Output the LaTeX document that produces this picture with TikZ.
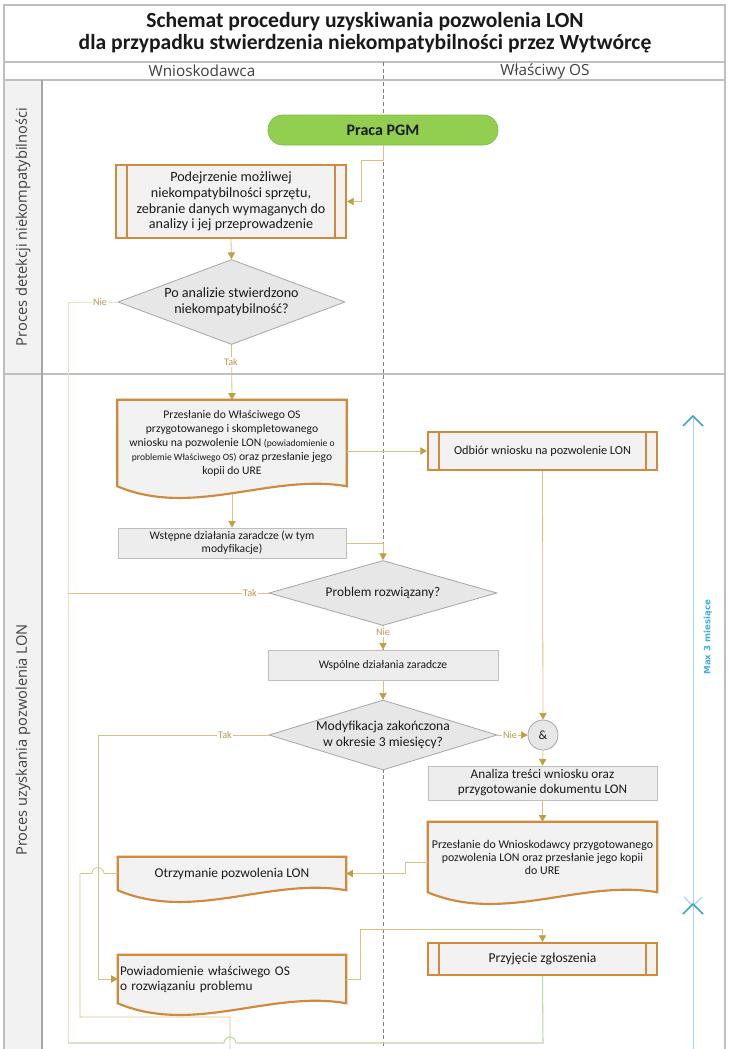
\documentclass[tikz,border=0pt]{standalone}
\usepackage{fontspec}
\setmainfont{Carlito}
\newfontfamily\osans{Open Sans}
\newfontfamily\dvs{DejaVu Sans}
\usetikzlibrary{arrows.meta,shapes.geometric,calc}
\pgfdeclarelayer{lanes}
\pgfdeclarelayer{shapes}
\pgfsetlayers{lanes,shapes,main}
\definecolor{frame}{HTML}{BFBFBF}
\definecolor{frametwo}{HTML}{A6A6A6}
\definecolor{colfill}{HTML}{F2F2F2}
\definecolor{orangeb}{HTML}{D08A3C}
\definecolor{boxfill}{HTML}{F2F2F2}
\definecolor{procfill}{HTML}{EDEDED}
\definecolor{procdraw}{HTML}{BFBFBF}
\definecolor{decfill}{HTML}{E7E7E7}
\definecolor{decdraw}{HTML}{A6A6A6}
\definecolor{conn}{HTML}{D6C383}
\definecolor{connpale}{HTML}{E9E3C3}
\definecolor{arrowc}{HTML}{BFA040}
\definecolor{labc}{HTML}{B39B55}
\definecolor{greenf}{HTML}{92CF50}
\definecolor{greenl}{HTML}{B9DBA0}
\definecolor{bluel}{HTML}{A4D8EE}
\definecolor{bluet}{HTML}{3CA6CC}
\definecolor{bluetext}{HTML}{41AEDD}
\definecolor{txt}{HTML}{1A1A1A}
\definecolor{hdr}{HTML}{404040}
\newcommand\docout[1]{%
  \begin{pgfonlayer}{shapes}
  \filldraw[draw=orangeb, line width=1.6pt, fill=boxfill, line join=miter]
    let \p1=(#1.north west), \p2=(#1.south east), \n1={\x2-\x1} in
    (\p1) -- (\x2,\y1) -- (\p2) .. controls (\x2-0.33*\n1,\y2+10pt) and (\x1+0.33*\n1,\y2-24pt) .. (\x1,\y2) -- cycle;
  \end{pgfonlayer}}
\newcommand\subbars[1]{%
  \draw[orangeb, line width=1.6pt] ($(#1.north west)+(12,0)$) -- ($(#1.south west)+(12,0)$)
    ($(#1.north east)+(-12,0)$) -- ($(#1.south east)+(-12,0)$);}
\begin{document}
\begin{tikzpicture}[x=0.75pt,y=-0.75pt,
  every node/.style={text=txt},
  fA/.style={font=\fontsize{10.6}{11.8}\selectfont},
  subproc/.style={draw=orangeb, line width=1.6pt, fill=boxfill, inner sep=0pt, align=center},
  proc/.style={draw=procdraw, fill=procfill, line width=0.6pt, inner sep=0pt, align=center},
  docnode/.style={inner sep=0pt, align=center},
  dec/.style={diamond, draw=decdraw, fill=decfill, line width=0.6pt, inner sep=0pt, align=center},
  line/.style={draw=conn, line width=0.6pt},
  pale/.style={draw=connpale, line width=0.7pt},
  arr/.style={line, -{Triangle[length=5pt,width=5.5pt,color=arrowc]}},
  lab/.style={fill=white, inner sep=1pt, text=labc, font=\fontsize{7.6}{8.5}\selectfont},
  greenline/.style={draw=greenl, line width=0.8pt}]
\useasboundingbox (0,0) rectangle (730,1049);
\begin{pgfonlayer}{lanes}
\fill[white] (0,0) rectangle (730,1049);
\fill[colfill] (4,80) rectangle (42,1049);
\draw[frame, line width=1.2pt] (4,1049) -- (4,5) -- (725,5) -- (725,1049);
\draw[frame, line width=0.8pt] (4,62) -- (725,62) (4,80) -- (725,80) (4,374) -- (725,374);
\draw[frametwo, line width=1.2pt] (42,80) -- (42,1049);
\draw[gray, line width=0.5pt, dash pattern=on 3pt off 2pt] (383,62) -- (383,1049);
\end{pgfonlayer}

% titles and headers
\node[align=center, font=\bfseries\fontsize{16.2}{16.5}\selectfont] (title) at (365,33)
  {Schemat procedury uzyskiwania pozwolenia LON\\dla przypadku stwierdzenia niekompatybilności przez Wytwórcę};
\node[text=hdr, font=\osans\fontsize{11.5}{12}\selectfont] (h1) at (202,71) {Wnioskodawca};
\node[text=hdr, font=\osans\fontsize{11.5}{12}\selectfont] (h2) at (545,71) {Właściwy OS};
\node[rotate=90, text=hdr, font=\osans\fontsize{11}{13}\selectfont] (p1) at (23,227) {Proces detekcji niekompatybilności};
\node[rotate=90, text=hdr, font=\osans\fontsize{11}{13}\selectfont] (p2) at (23,740) {Proces uzyskania pozwolenia LON};

% nodes
\node[fill=greenf, draw=greenf!90!black, line width=0.5pt, rounded corners=11pt, minimum width=172.5pt, minimum height=22.5pt,
  font=\bfseries\fontsize{12}{13}\selectfont] (pgm) at (383,130) {Praca PGM};
\node[subproc, fA, minimum width=172.5pt, minimum height=54.75pt] (pod) at (231,201.5)
  {Podejrzenie możliwej\\niekompatybilności sprzętu,\\zebranie danych wymaganych do\\analizy i jej przeprowadzenie};
\node[dec, aspect=2.67, minimum width=170.25pt, minimum height=63.75pt, font=\fontsize{10.6}{12}\selectfont] (d1) at (231.5,302)
  {Po analizie stwierdzono\\niekompatybilność?};
\node[docnode, minimum width=171.75pt, minimum height=64.5pt, font=\fontsize{8.7}{10.5}\selectfont] (pz1) at (232,443)
  {Przesłanie do Właściwego OS\\przygotowanego i skompletowanego\\wniosku na pozwolenie LON {\fontsize{7.2}{10.5}\selectfont(powiadomienie o}\\{\fontsize{7.2}{10.5}\selectfont problemie Właściwego OS)} oraz przesłanie jego\\kopii do URE};
\node[subproc, minimum width=171.75pt, minimum height=28.5pt, font=\fontsize{9.2}{10}\selectfont] (odb) at (542.5,451)
  {Odbiór wniosku na pozwolenie LON};
\node[proc, minimum width=171pt, minimum height=22.5pt, font=\fontsize{8.7}{9.75}\selectfont] (wst) at (232,543)
  {Wstępne działania zaradcze (w tym\\modyfikacje)};
\node[dec, aspect=3.5, minimum width=171pt, minimum height=48.75pt, font=\fontsize{10}{11.5}\selectfont] (d2) at (383,593)
  {Problem rozwiązany?};
\node[proc, minimum width=172.5pt, minimum height=22.5pt, font=\fontsize{8.7}{9.75}\selectfont] (wsp) at (383,665)
  {Wspólne działania zaradcze};
\node[dec, aspect=3.2, minimum width=171pt, minimum height=52.5pt, font=\fontsize{10.2}{12}\selectfont] (d3) at (383,735)
  {Modyfikacja zakończona\\w okresie 3 miesięcy?};
\node[circle, draw=decdraw, fill=decfill, line width=0.6pt, minimum size=22.5pt, inner sep=0pt, font=\fontsize{9.5}{10}\selectfont] (and) at (543,735) {\&};
\node[proc, minimum width=171.75pt, minimum height=25.5pt, font=\fontsize{9.9}{11.25}\selectfont] (ana) at (542.5,783)
  {Analiza treści wniosku oraz\\przygotowanie dokumentu LON};
\node[docnode, minimum width=171.75pt, minimum height=52.5pt, font=\fontsize{8.9}{9.75}\selectfont] (pz2) at (542.5,857)
  {Przesłanie do Wnioskodawcy przygotowanego\\pozwolenia LON oraz przesłanie jego kopii\\do URE};
\node[docnode, minimum width=171pt, minimum height=24.75pt, font=\fontsize{10.1}{11.5}\selectfont] (otr) at (232,873.5) {Otrzymanie pozwolenia LON};
\node[subproc, minimum width=171.75pt, minimum height=24pt, font=\fontsize{10.2}{11}\selectfont] (prz) at (542.5,959) {Przyjęcie zgłoszenia};
\node[docnode, minimum width=171pt, minimum height=36pt, align=left, text width=168pt, inner xsep=1.5pt, font=\fontsize{10}{11.25}\selectfont] (pow) at (232,979)
  {Powiadomienie właściwego OS\\o rozwiązaniu problemu};

\docout{pz1}
\docout{pz2}
\docout{otr}
\docout{pow}
\subbars{pod}
\subbars{odb}
\subbars{prz}

% connectors
\draw[arr] (pgm.south) -- ++(0,15) -| ($(pod.east)+(14,0)$) -- (pod.east);
\draw[arr] (pod.south) -- (d1.north);
\draw[pale] (d1.west) -- (68,302) -- (68,1043);
\draw[arr] (d1.south) -- (pz1.north);
\draw[arr] (pz1.east |- odb.west) -- (odb.west);
\draw[arr] ($(pz1.south)+(0,8)$) -- (wst.north);
\draw[arr] (wst.east) -| (d2.north);
\draw[line] (d2.west) -- (68,593);
\draw[arr] (d2.south) -- (wsp.north);
\draw[arr] (wsp.south) -- (d3.north);
\draw[arr] (d3.west) -- (98,735) |- (pow.west);
\draw[arr] (d3.east) -- (and.west);
\draw[arr] (odb.south) -- (and.north);
\draw[arr] (and.south) -- (ana.north);
\draw[arr] (ana.south) -- (pz2.north);
\draw[arr] ($(pz2.west)+(0,5)$) -- (405,862) |- (otr.east);
\draw[line] (otr.west) -- (104,873.5) arc[start angle=0,end angle=180,radius=4.5pt] -- (80,873.5) -- (80,1017) -- (230,1017) -- (230,1049);
\draw[arr] (pow.east) -- ++(14,0) |- ($(prz.north)+(0,-13)$) -- (prz.north);
\draw[greenline] (prz.south) -- (543,1043) -- (236,1043) arc[start angle=0,end angle=180,radius=4.5pt] -- (68,1043);

% labels
\node[lab] (l1) at (100,302) {Nie};
\node[lab] (l2) at (231,362) {Tak};
\node[lab] (l3) at (250,593) {Tak};
\node[lab] (l4) at (383,632) {Nie};
\node[lab] (l5) at (225,735) {Tak};
\node[lab] (l6) at (510,735) {Nie};

% time bracket
\draw[bluel, line width=0.6pt] (693,418) -- (693,1049);
\draw[bluet, line width=1.2pt] (683,426) -- (693,416) -- (703,426);
\draw[bluel, line width=1pt] (684,897) -- (693,906) -- (702,897);
\draw[bluet, line width=1.2pt] (683,914) -- (693,904) -- (703,914);
\node[rotate=90, text=bluetext, font=\dvs\bfseries\fontsize{6.5}{8}\selectfont] (max) at (708,637) {Max 3 miesiące};
\end{tikzpicture}
\end{document}
